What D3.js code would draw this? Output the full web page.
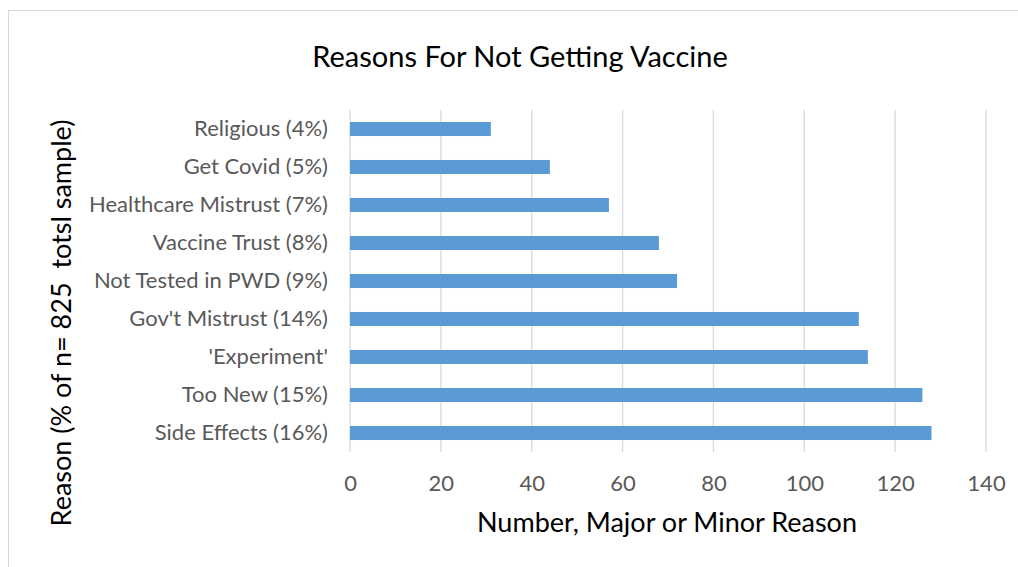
<!DOCTYPE html>
<html>
<head>
<meta charset="utf-8">
<script src="https://cdn.jsdelivr.net/npm/d3@7/dist/d3.min.js"></script>
<style>
  body { margin: 0; background: #fff; }
  svg { font-family: Lato, "Open Sans", sans-serif; }
</style>
</head>
<body>
<div id="chart"></div>
<script>
// bars listed top to bottom
var reasons = ["Religious (4%)", "Get Covid (5%)", "Healthcare Mistrust (7%)", "Vaccine Trust (8%)",
  "Not Tested in PWD (9%)", "Gov't Mistrust (14%)", "'Experiment'", "Too New (15%)", "Side Effects (16%)"];
var counts = [31, 44, 57, 68, 72, 112, 114, 126, 128];
var xTicks = [0, 20, 40, 60, 80, 100, 120, 140];

var width = 1018, height = 567;
var margin = {top: 110, right: 32, bottom: 115, left: 350};

var svg = d3.select("#chart").append("svg")
    .attr("width", width)
    .attr("height", height);

// chart frame
svg.append("rect")
    .attr("x", 8.5).attr("y", 10.5)
    .attr("width", 1020).attr("height", 570)
    .attr("fill", "none")
    .attr("stroke", "#d9d9d9");

var x = d3.scaleLinear()
    .domain([0, 140])
    .range([margin.left, width - margin.right]);

var y = d3.scaleBand()
    .domain(reasons)
    .range([margin.top, height - margin.bottom])
    .paddingInner(0.63)
    .paddingOuter(0.315);

// gridlines
svg.append("g")
    .selectAll("line")
    .data(xTicks)
    .enter().append("line")
    .attr("x1", function(d) { return x(d); })
    .attr("x2", function(d) { return x(d); })
    .attr("y1", margin.top)
    .attr("y2", height - margin.bottom)
    .attr("stroke", "#d9d9d9")
    .attr("stroke-width", 1.3);

// bars
svg.append("g")
    .selectAll("rect")
    .data(counts)
    .enter().append("rect")
    .attr("x", x(0))
    .attr("y", function(d, i) { return y(reasons[i]); })
    .attr("width", function(d) { return x(d) - x(0); })
    .attr("height", y.bandwidth())
    .attr("fill", "#5b9bd5");

// x axis labels
var xAxis = d3.axisBottom(x).tickValues(xTicks).tickSize(0).tickPadding(0);
var gx = svg.append("g")
    .attr("transform", "translate(0," + (height - margin.bottom + 23) + ")")
    .call(xAxis);
gx.select(".domain").remove();
gx.selectAll("text")
    .attr("fill", "#595959")
    .attr("font-size", "22px")
    .attr("font-family", "Lato, 'Open Sans', sans-serif");

// y axis labels
var yAxis = d3.axisLeft(y).tickSize(0).tickPadding(22);
var gy = svg.append("g")
    .attr("transform", "translate(" + margin.left + ",0)")
    .call(yAxis);
gy.select(".domain").remove();
gy.selectAll("text")
    .attr("fill", "#595959")
    .attr("font-size", "22px")
    .attr("font-family", "Lato, 'Open Sans', sans-serif");

// titles
svg.append("text")
    .attr("x", 520).attr("y", 67)
    .attr("text-anchor", "middle")
    .attr("font-size", "29px")
    .attr("fill", "#000")
    .text("Reasons For Not Getting Vaccine");

svg.append("text")
    .attr("x", 667).attr("y", 532)
    .attr("text-anchor", "middle")
    .attr("font-size", "27px")
    .attr("fill", "#000")
    .text("Number, Major or Minor Reason");

svg.append("text")
    .attr("transform", "translate(71,323) rotate(-90)")
    .attr("text-anchor", "middle")
    .attr("font-size", "27px")
    .attr("fill", "#000")
    .style("white-space", "pre")
    .text("Reason (% of n= 825  totsl sample)");
</script>
</body>
</html>
